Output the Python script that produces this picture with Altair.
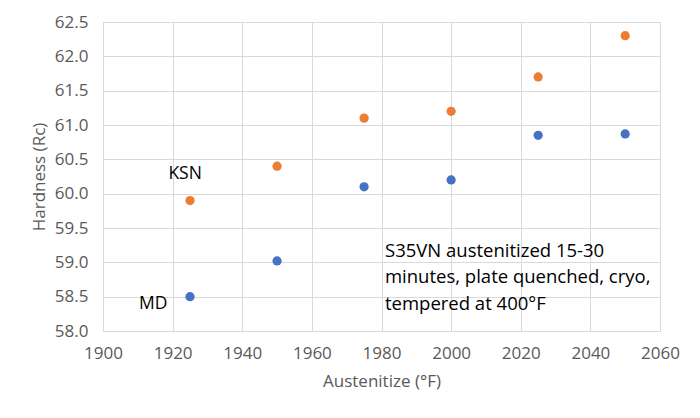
import altair as alt
import pandas as pd

temps = [1925, 1950, 1975, 2000, 2025, 2050]
ksn = [59.9, 60.4, 61.1, 61.2, 61.7, 62.3]
md = [58.5, 59.02, 60.1, 60.2, 60.85, 60.87]
x_ticks = [1900, 1920, 1940, 1960, 1980, 2000, 2020, 2040, 2060]
y_ticks = [58.0, 58.5, 59.0, 59.5, 60.0, 60.5, 61.0, 61.5, 62.0, 62.5]

series_labels = ["KSN", "MD"]
label_x = [1923.6, 1914.4]
label_y = [60.28, 58.39]

note_lines = ["S35VN austenitized 15-30", "minutes, plate quenched, cryo,", "tempered at 400°F"]
note_x = [1981, 1981, 1981]
note_y = [59.17, 58.78, 58.40]

FONT = "Open Sans"
GRID = "#d9d9d9"
LABEL = "#595959"

df = pd.DataFrame({
    "temp": temps * 2,
    "hardness": ksn + md,
    "series": ["KSN"] * len(temps) + ["MD"] * len(temps),
})

xscale = alt.Scale(domain=[1900, 2060], nice=False, zero=False)
yscale = alt.Scale(domain=[58.0, 62.5], nice=False, zero=False)
xaxis = alt.Axis(values=x_ticks, title="Austenitize (°F)", format="d",
                 titlePadding=12, labelPadding=14, labelOverlap=False,
                 labelFlush=False)
yaxis = alt.Axis(values=y_ticks, title="Hardness (Rc)", format=".1f",
                 titlePadding=6, labelPadding=15, labelOverlap=False,
                 labelFlush=False)

points = alt.Chart(df).mark_circle(size=85, opacity=1).encode(
    x=alt.X("temp:Q", scale=xscale, axis=xaxis, title="Austenitize (°F)"),
    y=alt.Y("hardness:Q", scale=yscale, axis=yaxis, title="Hardness (Rc)"),
    color=alt.Color("series:N", scale=alt.Scale(domain=["KSN", "MD"],
                                                range=["#ED7D31", "#4472C4"]),
                    legend=None),
)

lab_df = pd.DataFrame({"x": label_x, "y": label_y, "t": series_labels})
labels = alt.Chart(lab_df).mark_text(font=FONT, fontSize=17.5, color="#000000",
                                      align="center", baseline="middle").encode(
    x=alt.X("x:Q", scale=xscale, axis=xaxis, title="Austenitize (°F)"),
    y=alt.Y("y:Q", scale=yscale, axis=yaxis, title="Hardness (Rc)"), text="t:N")

note_df = pd.DataFrame({"x": note_x, "y": note_y, "t": note_lines})
notes = alt.Chart(note_df).mark_text(font=FONT, fontSize=18.5, color="#000000",
                                     align="left", baseline="middle").encode(
    x=alt.X("x:Q", scale=xscale, axis=xaxis, title="Austenitize (°F)"),
    y=alt.Y("y:Q", scale=yscale, axis=yaxis, title="Hardness (Rc)"), text="t:N")

chart = alt.layer(points, labels, notes).properties(
    width=557, height=309,
    autosize=alt.AutoSizeParams(type="none"),
    padding={"left": 95, "top": 14, "right": 30, "bottom": 75},
    background="white",
).configure_view(stroke=GRID, strokeWidth=1).configure_axis(
    grid=True, gridColor=GRID, gridWidth=1, domainColor=GRID, ticks=False,
    labelFont=FONT, labelFontSize=17, labelColor=LABEL,
    titleFont=FONT, titleFontSize=17, titleFontWeight="normal", titleColor=LABEL,
)

chart.save("out.html", embed_options={"renderer": "svg", "actions": False})
